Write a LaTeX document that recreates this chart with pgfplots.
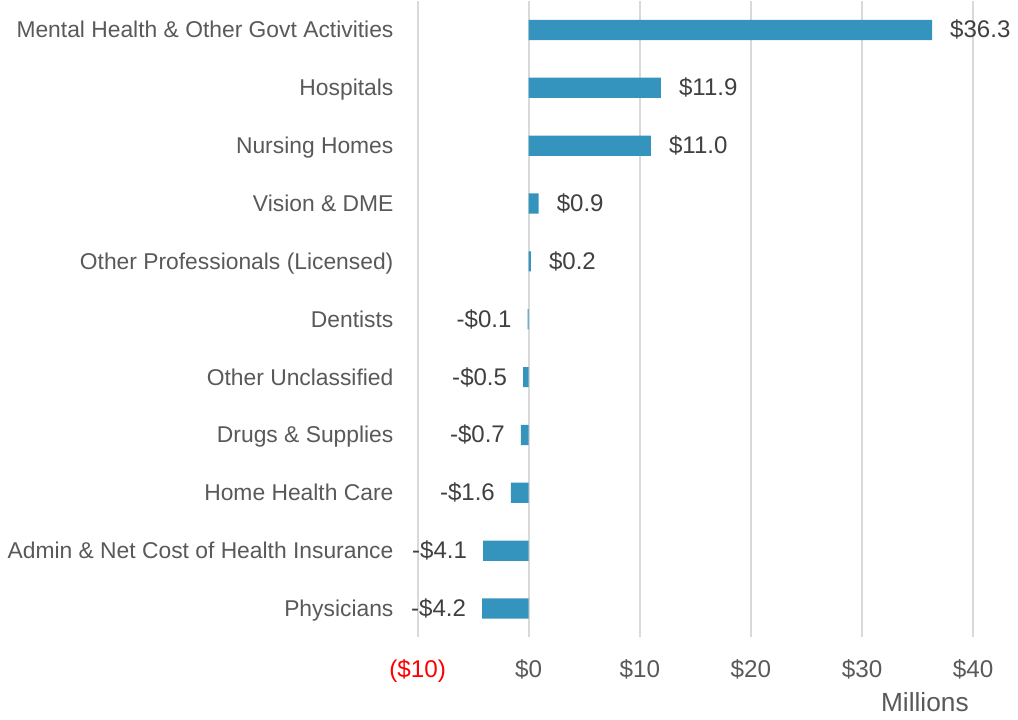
\documentclass[border=0pt]{standalone}
\usepackage{pgfplots}
\pgfplotsset{compat=1.18}
\usepackage{pgfplotstable}
\usepackage{fontspec}
\setmainfont{Liberation Sans}
\definecolor{barblue}{HTML}{3594BE}
\definecolor{gridgray}{HTML}{D9D9D9}
\definecolor{labgray}{HTML}{595959}
\definecolor{valgray}{HTML}{404040}

% position (0 = top), value in $ millions, printed label
\pgfplotstableread{
pos val lab
0 36.3 \$36.3
1 11.9 \$11.9
2 11.0 \$11.0
3 0.9  \$0.9
4 0.2  \$0.2
}\positive
\pgfplotstableread{
pos val lab
5  -0.1 -\$0.1
6  -0.5 -\$0.5
7  -0.7 -\$0.7
8  -1.6 -\$1.6
9  -4.1 -\$4.1
10 -4.2 -\$4.2
}\negative

\begin{document}
\fontsize{11.3}{13.5}\selectfont
\begin{tikzpicture}
\begin{axis}[
    scale only axis,
    width=275pt, height=315pt,
    xbar, bar width=10pt, bar shift=0pt,
    xmin=-10, xmax=40,
    xtick={-10,0,10,20,30,40},
    xticklabels={{\color{red}(\$10)},\$0,\$10,\$20,\$30,\$40},
    ymin=-0.5, ymax=10.5, y dir=reverse,
    ytick={0,...,10},
    yticklabels={Mental Health \& Other Govt Activities, Hospitals, Nursing Homes,
      Vision \& DME, Other Professionals (Licensed), Dentists, Other Unclassified,
      Drugs \& Supplies, Home Health Care, Admin \& Net Cost of Health Insurance, Physicians},
    axis line style={draw=none},
    major tick length=0pt,
    xmajorgrids, grid style={gridgray, line width=1pt},
    ymajorgrids=false,
    tick label style={labgray, font=\fontsize{11.3}{13.5}\selectfont,
      text height=0.85em, text depth=0.15em},
    yticklabel style={xshift=-8pt},
    xticklabel style={yshift=-6pt, font=\fontsize{12}{14}\selectfont},
    xlabel={Millions},
    xlabel style={labgray, font=\fontsize{13}{15}\selectfont, at={(rel axis cs:0.913,0)}, anchor=center, yshift=-32pt},
    point meta=explicit symbolic,
    nodes near coords={\pgfplotspointmeta},
    every node near coord/.append style={valgray, font=\fontsize{11.9}{14}\selectfont,
      text height=0.85em, text depth=0.15em},
]
\addplot[fill=barblue, draw=none,
  nodes near coords style={anchor=west, xshift=5pt}]
  table[x=val, y=pos, meta=lab] {\positive};
\addplot[fill=barblue, draw=none,
  nodes near coords style={anchor=east, xshift=-4pt}]
  table[x=val, y=pos, meta=lab] {\negative};
\end{axis}
\end{tikzpicture}
\end{document}
